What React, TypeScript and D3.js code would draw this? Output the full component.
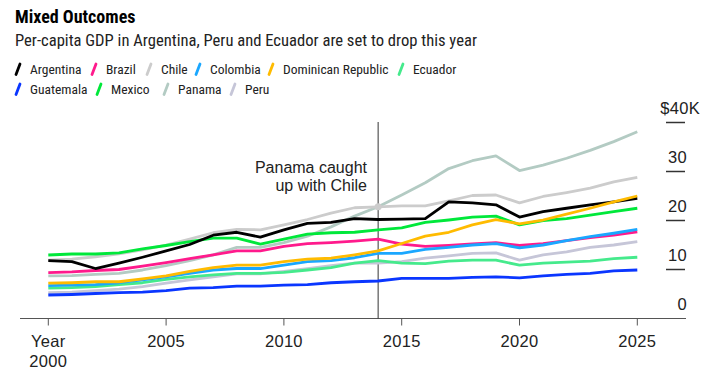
import React from "react";
import * as d3 from "d3";

const years = d3.range(2000, 2026);

const countries = ["Argentina", "Brazil", "Chile", "Colombia", "Dominican Republic", "Ecuador", "Guatemala", "Mexico", "Panama", "Peru"];
const colors = ["#000000", "#ff1a8c", "#cccccc", "#1aa7ff", "#ffbb00", "#45ea8c", "#0a36ff", "#00e83a", "#b3cbc3", "#c6c6d8"];

const argentina = [11.8, 11.6, 10.2, 11.3, 12.5, 13.8, 15.1, 17.0, 17.6, 16.6, 18.1, 19.4, 19.6, 20.4, 20.2, 20.3, 20.4, 23.8, 23.6, 23.2, 20.7, 21.8, 22.5, 23.2, 23.8, 24.5];
const brazil = [9.35, 9.5, 9.8, 10.0, 10.7, 11.4, 12.2, 13.0, 13.8, 13.8, 14.7, 15.3, 15.5, 15.8, 16.2, 15.2, 14.7, 14.9, 15.2, 15.5, 14.9, 15.3, 15.9, 16.5, 17.0, 17.7];
const chile = [11.9, 12.1, 12.6, 13.2, 14.0, 15.0, 16.2, 17.5, 18.2, 18.1, 19.1, 20.2, 21.5, 22.6, 22.8, 23.0, 23.0, 24.0, 25.1, 25.2, 23.6, 24.9, 25.7, 26.6, 27.9, 28.8];
const colombia = [6.7, 6.8, 6.9, 7.3, 7.9, 8.5, 9.2, 9.9, 10.2, 10.2, 10.9, 11.6, 11.8, 12.4, 13.3, 13.3, 14.1, 14.5, 15.0, 15.3, 14.4, 15.0, 15.9, 16.7, 17.4, 18.2];
const dominican = [7.2, 7.3, 7.5, 7.5, 8.1, 8.7, 9.6, 10.4, 10.9, 10.9, 11.6, 12.1, 12.3, 13.0, 13.8, 15.3, 16.8, 17.6, 19.1, 20.2, 19.3, 20.1, 21.3, 22.5, 23.8, 25.0];
const ecuador = [6.2, 6.3, 6.5, 6.9, 7.3, 8.0, 8.5, 8.9, 9.2, 9.2, 9.4, 9.9, 10.4, 11.3, 11.8, 11.3, 11.2, 11.7, 11.9, 11.9, 10.9, 11.3, 11.5, 11.7, 12.2, 12.5];
const guatemala = [4.8, 4.9, 5.1, 5.3, 5.4, 5.7, 6.2, 6.3, 6.6, 6.6, 6.8, 6.9, 7.3, 7.5, 7.65, 8.2, 8.2, 8.2, 8.4, 8.5, 8.3, 8.7, 9.0, 9.2, 9.7, 9.9];
const mexico = [12.96, 13.16, 13.16, 13.4, 14.2, 14.9, 15.7, 16.4, 16.4, 15.2, 16.2, 17.2, 17.5, 17.6, 18.1, 18.5, 19.6, 20.1, 20.7, 20.9, 19.1, 20.0, 20.4, 21.1, 21.8, 22.5];
const panama = [8.7, 8.75, 9.0, 9.2, 9.9, 10.8, 11.8, 13.0, 14.5, 14.5, 15.5, 16.8, 18.7, 20.9, 22.8, 25.2, 27.7, 30.6, 32.2, 33.2, 30.2, 31.3, 32.7, 34.3, 36.1, 38.1];
const peru = [5.3, 5.4, 5.7, 6.0, 6.5, 7.2, 7.9, 8.5, 9.1, 9.1, 9.6, 10.2, 10.8, 11.3, 11.3, 11.6, 12.3, 12.8, 13.3, 13.4, 11.9, 13.0, 13.6, 14.5, 15.0, 15.7];

const seriesValues = [argentina, brazil, chile, colombia, dominican, ecuador, guatemala, mexico, panama, peru];
// drawing order (bottom to top)
const drawOrder = [9, 8, 2, 5, 6, 1, 3, 7, 0, 4];

const yTicks = [0, 10, 20, 30, 40];
const xTicks = [2000, 2005, 2010, 2015, 2020, 2025];
const annotationYear = 2014;
const annotationLines = ["Panama caught", "up with Chile"];

const title = "Mixed Outcomes";
const subtitle = "Per-capita GDP in Argentina, Peru and Ecuador are set to drop this year";

// legend layout (x of marker, row)
const legendLayout = [
  [15, 0], [91, 0], [146, 0], [195, 0], [268, 0], [398, 0],
  [15, 1], [96, 1], [163, 1], [230, 1],
];

const NARROW = "'Roboto Condensed', 'Liberation Sans Narrow', 'Arial Narrow', sans-serif";
const REGULAR = "'Liberation Sans', Arial, sans-serif";

export default function App() {
  const W = 710, H = 379;
  const x = d3.scaleLinear().domain([2000, 2025]).range([48.3, 637.3]);
  const y = d3.scaleLinear().domain([0, 40]).range([318.5, 122.5]);
  const line = d3.line<number>().x((_, i) => x(years[i])).y((v) => y(v)).curve(d3.curveLinear);

  const annIdx = years.indexOf(annotationYear);

  return (
    <svg width={W} height={H} style={{ position: "absolute", left: 0, top: 0, background: "#fff" }} fontFamily={NARROW}>
      <text x={15} y={23} fontSize={18} fontWeight="bold" fill="#000">{title}</text>
      <text x={15} y={46} fontSize={16.6} fill="#222">{subtitle}</text>

      {legendLayout.map(([lx, row], i) => {
        const by = 74 + row * 20;
        return (
          <g key={countries[i]}>
            <line x1={lx + 1} y1={by + 0.5} x2={lx + 5} y2={by - 10} stroke={colors[i]} strokeWidth={2.8} strokeLinecap="round" />
            <text x={lx + 15} y={by} fontSize={13.5} fill="#222">{countries[i]}</text>
          </g>
        );
      })}

      {/* x axis */}
      <line x1={20} x2={686} y1={y(0)} y2={y(0)} stroke="#555" strokeWidth={1.2} />
      {xTicks.map((t) => (
        <g key={t}>
          <line x1={x(t)} x2={x(t)} y1={y(0)} y2={y(0) + 7} stroke="#555" strokeWidth={1} />
          <text x={x(t)} y={346.5} textAnchor="middle" fontSize={16.5} letterSpacing={0.3} fontFamily={REGULAR} fill="#222">{t === 2000 ? "Year" : String(t)}</text>
          {t === 2000 && <text x={x(t)} y={366.5} textAnchor="middle" fontSize={16.5} letterSpacing={0.3} fontFamily={REGULAR} fill="#222">2000</text>}
        </g>
      ))}

      {/* y axis */}
      {yTicks.map((t) => (
        <g key={t}>
          {t > 0 && <line x1={666} x2={685} y1={y(t)} y2={y(t)} stroke="#333" strokeWidth={1.5} />}
          <text x={t === 40 ? 700 : 687} y={y(t) - 9} textAnchor="end" fontSize={16.5} letterSpacing={0.3} fontFamily={REGULAR} fill="#222">{t === 40 ? `$${t}K` : String(t)}</text>
        </g>
      ))}

      {/* annotation line */}
      <line x1={x(annotationYear)} x2={x(annotationYear)} y1={122} y2={y(0)} stroke="#333" strokeWidth={1} />
      {annotationLines.map((l, i) => (
        <text key={l} x={367} y={173 + i * 17.5} textAnchor="end" fontSize={16} fontFamily={REGULAR} fill="#222">{l}</text>
      ))}

      {drawOrder.map((i) => (
        <path key={countries[i]} d={line(seriesValues[i]) || ""} fill="none" stroke={colors[i]} strokeWidth={2.8} strokeLinejoin="round" />
      ))}

      <circle cx={x(annotationYear)} cy={y(chile[annIdx])} r={3.5} fill="#cccccc" />
    </svg>
  );
}
